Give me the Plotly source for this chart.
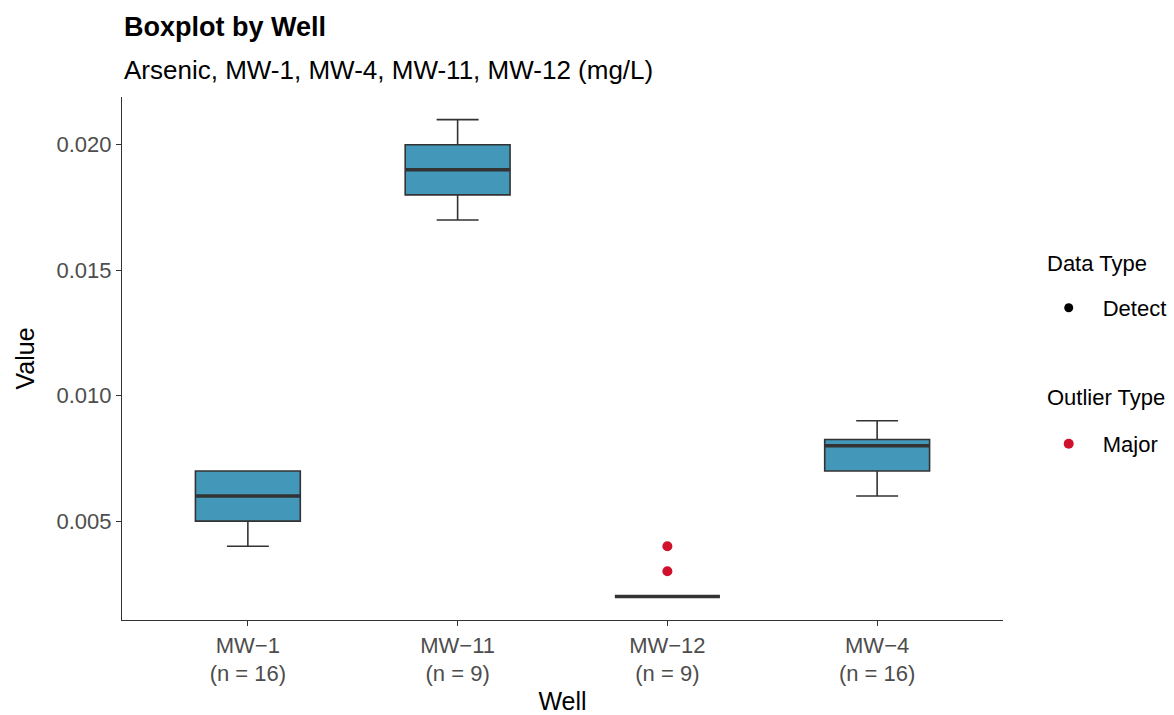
import plotly.graph_objects as go

# box stats per well (mg/L)
wells = ["MW-1", "MW-11", "MW-12", "MW-4"]
n_obs = [16, 9, 9, 16]
lower = [0.004, 0.017, 0.002, 0.006]
q1 = [0.005, 0.018, 0.002, 0.007]
median = [0.006, 0.019, 0.002, 0.008]
q3 = [0.007, 0.020, 0.002, 0.00825]
upper = [0.007, 0.021, 0.002, 0.009]

# major outliers
outlier_well = ["MW-12", "MW-12"]
outlier_value = [0.003, 0.004]

y_ticks = [0.005, 0.010, 0.015, 0.020]

FONT = "Liberation Sans, Arial, sans-serif"
BOX_FILL = "#4397B9"
DARK = "#333333"
RED = "#D0112B"

tick_text = [f"{w.replace('-', '−')}<br>(n = {n})" for w, n in zip(wells, n_obs)]

fig = go.Figure()

fig.add_trace(go.Box(
    x=wells, q1=q1, median=median, q3=q3,
    lowerfence=lower, upperfence=upper,
    width=0.5, whiskerwidth=0.4,
    fillcolor=BOX_FILL, line=dict(color=DARK, width=1.6),
    boxpoints=False, showlegend=False, hoverinfo="skip",
))

# thicker median bar like ggplot (line-ew length = 1.4 * size)
fig.add_trace(go.Scatter(
    x=wells, y=median, mode="markers",
    marker=dict(symbol="line-ew", size=75, line=dict(color=DARK, width=3.5)),
    showlegend=False, hoverinfo="skip",
))

# legend-only entry for detects
fig.add_trace(go.Scatter(
    x=[None], y=[None], mode="markers", name="Detect",
    marker=dict(color="black", size=9), legend="legend",
))

fig.add_trace(go.Scatter(
    x=outlier_well, y=outlier_value, mode="markers", name="Major",
    marker=dict(color=RED, size=10), legend="legend2",
))

# titles
fig.add_annotation(text="<b>Boxplot by Well</b>", xref="paper", yref="paper",
                   x=0, y=1.134, xanchor="left", yanchor="middle", showarrow=False,
                   font=dict(family=FONT, size=27, color="black"))
fig.add_annotation(text="Arsenic, MW-1, MW-4, MW-11, MW-12 (mg/L)", xref="paper", yref="paper",
                   x=0, y=1.052, xanchor="left", yanchor="middle", showarrow=False,
                   font=dict(family=FONT, size=26, color="black"))

# legend group titles
for txt, yy in [("Data Type", 0.6826), ("Outlier Type", 0.4245)]:
    fig.add_annotation(text=txt, xref="paper", yref="paper",
                       x=1.048, y=yy, xanchor="left", yanchor="middle", showarrow=False,
                       font=dict(family=FONT, size=22, color="black"))

fig.update_xaxes(
    type="category", range=[-0.6, 3.6],
    tickvals=wells, ticktext=tick_text,
    showline=True, linecolor=DARK, linewidth=1.2,
    ticks="outside", ticklen=5, tickcolor=DARK, tickwidth=1.2,
    showgrid=False, zeroline=False, automargin=True,
    tickfont=dict(family=FONT, size=22, color="#4D4D4D"),
    title=dict(text="Well", font=dict(family=FONT, size=25, color="black"), standoff=10),
)
fig.update_yaxes(
    range=[0.00106, 0.0219],
    tickvals=y_ticks, tickformat=".3f",
    showline=True, linecolor=DARK, linewidth=1.2,
    ticks="outside", ticklen=5, tickcolor=DARK, tickwidth=1.2,
    showgrid=False, zeroline=False, automargin=True,
    tickfont=dict(family=FONT, size=22, color="#4D4D4D"),
    title=dict(text="Value", font=dict(family=FONT, size=25, color="black"), standoff=14),
)

legend_style = dict(
    xanchor="left", yanchor="middle",
    font=dict(family=FONT, size=22, color="black"),
    itemwidth=58, bgcolor="rgba(0,0,0,0)",
)

fig.update_layout(
    width=1174, height=715,
    margin=dict(l=122, r=171, t=97, b=95, autoexpand=False),
    plot_bgcolor="white", paper_bgcolor="white",
    font=dict(family=FONT, color="black"),
    legend=dict(x=1.036, y=0.5966, **legend_style),
    legend2=dict(x=1.036, y=0.3365, **legend_style),
)

# drop the default page margin so the figure fills the window
fig.write_html("out.html", config={"displayModeBar": False},
               post_script="document.body.style.margin = '0';")
